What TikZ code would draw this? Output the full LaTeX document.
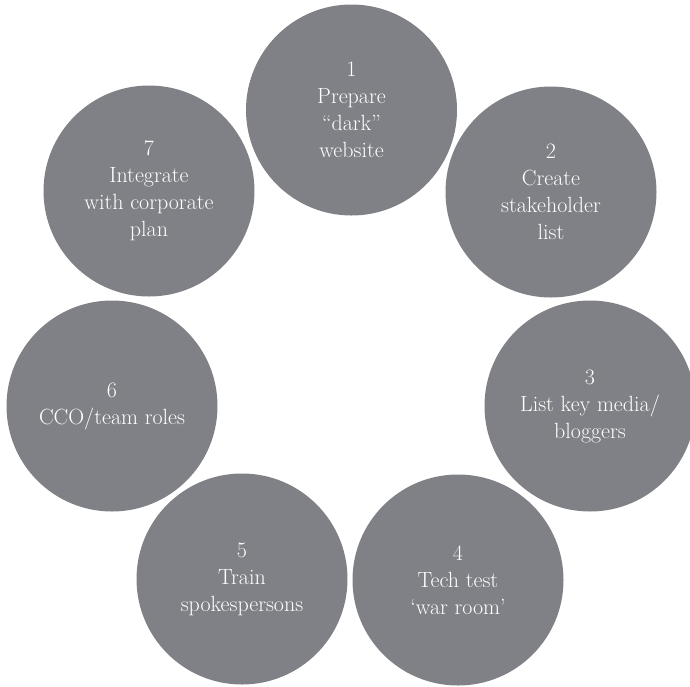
\documentclass[tikz,border=0pt]{standalone}
\definecolor{diskgray}{RGB}{128,129,134}
\tikzset{
  stepdisc/.style={circle, fill=diskgray, minimum size=211pt, inner sep=0pt,
    text=white, align=center, font=\fontsize{22}{27}\selectfont}
}
\begin{document}
\begin{tikzpicture}[x=1pt,y=-1pt]
\useasboundingbox (0,0) rectangle (690,686);
\node[stepdisc] (s1) at (351.5,110) {1\\Prepare\\“dark”\\website};
\node[stepdisc] (s2) at (551,192) {2\\Create\\stakeholder\\list};
\node[stepdisc] (s3) at (590,406) {3\\List key media/\\bloggers};
\node[stepdisc] (s4) at (458,580) {4\\Tech test\\‘war room’};
\node[stepdisc] (s5) at (242,579) {5\\Train\\spokespersons};
\node[stepdisc] (s6) at (112,406) {6\\CCO/team roles};
\node[stepdisc] (s7) at (149,191) {7\\Integrate\\with corporate\\plan};
\end{tikzpicture}
\end{document}
